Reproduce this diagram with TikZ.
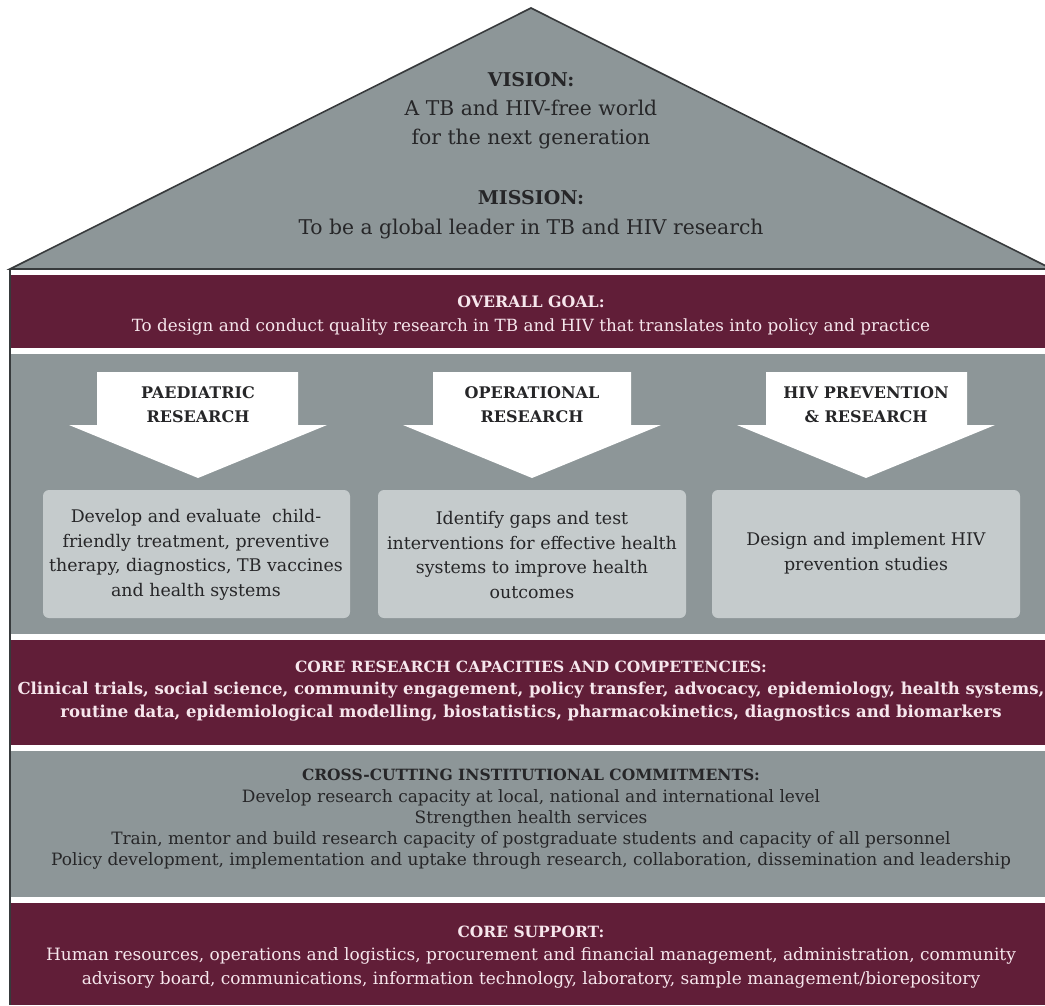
\documentclass[tikz,border=0pt]{standalone}
\usepackage{fontspec}
\setmainfont{DejaVu Serif}
\definecolor{maroon}{RGB}{97,30,56}
\definecolor{housegray}{RGB}{141,150,152}
\definecolor{boxgray}{RGB}{197,203,204}
\definecolor{edgedark}{RGB}{55,58,60}
\definecolor{lighttext}{RGB}{246,230,236}
\definecolor{darktext}{RGB}{38,38,40}
\newcommand{\hd}[2]{{\fontsize{#1}{#2}\selectfont\bfseries}}
\begin{document}
\begin{tikzpicture}[x=1pt,y=-1pt,
  band/.style={fill=maroon,draw=none},
  grayband/.style={fill=housegray,draw=none},
  lighttxt/.style={text=lighttext,align=center,inner sep=0pt},
  darktxt/.style={text=darktext,align=center,inner sep=0pt},
  arrowshape/.style={fill=white,draw=none},
  itembox/.style={fill=boxgray,draw=none,rounded corners=6pt}
]
\useasboundingbox (0,0) rectangle (1045,1005);
\fill[white] (0,0) rectangle (1045,1005);
% roof
\filldraw[fill=housegray,draw=edgedark,line width=1.6pt,line join=miter]
  (10,269) -- (531,8) -- (1052,269) -- cycle;
% bands
\fill[band] (10,275) rectangle (1052,348);
\fill[grayband] (10,354) rectangle (1052,634);
\fill[band] (10,640) rectangle (1052,745);
\fill[grayband] (10,751) rectangle (1052,897);
\fill[band] (10,903) rectangle (1052,1005);
% left house wall
\draw[edgedark,line width=1.6pt] (10,269) -- (10,1005);
% arrows
\fill[arrowshape] (97,372) -- (298,372) -- (298,425) -- (327,425) -- (198,478) -- (69,425) -- (97,425) -- cycle;
\fill[arrowshape] (433,372) -- (631,372) -- (631,425) -- (661,425) -- (532,478) -- (403,425) -- (433,425) -- cycle;
\fill[arrowshape] (766,372) -- (967,372) -- (967,425) -- (995,425) -- (866,478) -- (737,425) -- (766,425) -- cycle;
% boxes
\fill[itembox] (43,490) rectangle (350,618);
\fill[itembox] (378,490) rectangle (686,618);
\fill[itembox] (712,490) rectangle (1020,618);

% roof text
\node[darktxt,font=\fontsize{20.3}{29}\selectfont] (vision) at (531,111)
  {{\fontsize{19}{29}\selectfont\bfseries VISION:}\\A TB and HIV-free world\\for the next generation};
\node[darktxt,font=\fontsize{20.3}{30}\selectfont] (mission) at (531,215)
  {{\fontsize{19}{30}\selectfont\bfseries MISSION:}\\To be a global leader in TB and HIV research};
% overall goal
\node[lighttxt,font=\fontsize{16.8}{24}\selectfont] (goal) at (531,315)
  {{\fontsize{15.8}{24}\selectfont\bfseries OVERALL GOAL:}\\To design and conduct quality research in TB and HIV that translates into policy and practice};
% arrow labels
\node[darktxt,font=\bfseries\fontsize{16}{24}\selectfont] (paed) at (198,405) {PAEDIATRIC\\RESEARCH};
\node[darktxt,font=\bfseries\fontsize{16}{24}\selectfont] (oper) at (532,405) {OPERATIONAL\\RESEARCH};
\node[darktxt,font=\bfseries\fontsize{16}{24}\selectfont] (hivp) at (866,405) {HIV PREVENTION\\\& RESEARCH};
% box texts
\node[darktxt,font=\fontsize{17.4}{24.5}\selectfont] (paedtxt) at (196,555)
  {Develop and evaluate\ \ child-\\friendly treatment, preventive\\therapy, diagnostics, TB vaccines\\and health systems};
\node[darktxt,font=\fontsize{17.4}{24.5}\selectfont] (opertxt) at (532,555)
  {Identify gaps and test\\interventions for effective health\\systems to improve health\\outcomes};
\node[darktxt,font=\fontsize{17.4}{24.5}\selectfont] (hivptxt) at (866,553)
  {Design and implement HIV\\prevention studies};
% core research
\node[lighttxt,font=\bfseries\fontsize{16.5}{22.5}\selectfont] (core) at (531,691)
  {{\fontsize{15.5}{22.5}\selectfont CORE RESEARCH CAPACITIES AND COMPETENCIES:}\\
   Clinical trials, social science, community engagement, policy transfer, advocacy, epidemiology, health systems,\\
   routine data, epidemiological modelling, biostatistics, pharmacokinetics, diagnostics and biomarkers};
% cross-cutting
\node[darktxt,font=\fontsize{17}{21.3}\selectfont] (cross) at (531,819.5)
  {{\fontsize{15.5}{21.3}\selectfont\bfseries CROSS-CUTTING INSTITUTIONAL COMMITMENTS:}\\
   Develop research capacity at local, national and international level\\
   Strengthen health services\\
   Train, mentor and build research capacity of postgraduate students and capacity of all personnel\\
   Policy development, implementation and uptake through research, collaboration, dissemination and leadership};
% core support
\node[lighttxt,font=\fontsize{17}{23.5}\selectfont] (support) at (531,957)
  {{\fontsize{15.5}{23.5}\selectfont\bfseries CORE SUPPORT:}\\
   Human resources, operations and logistics, procurement and financial management, administration, community\\
   advisory board, communications, information technology, laboratory, sample management/biorepository};
\end{tikzpicture}
\end{document}
